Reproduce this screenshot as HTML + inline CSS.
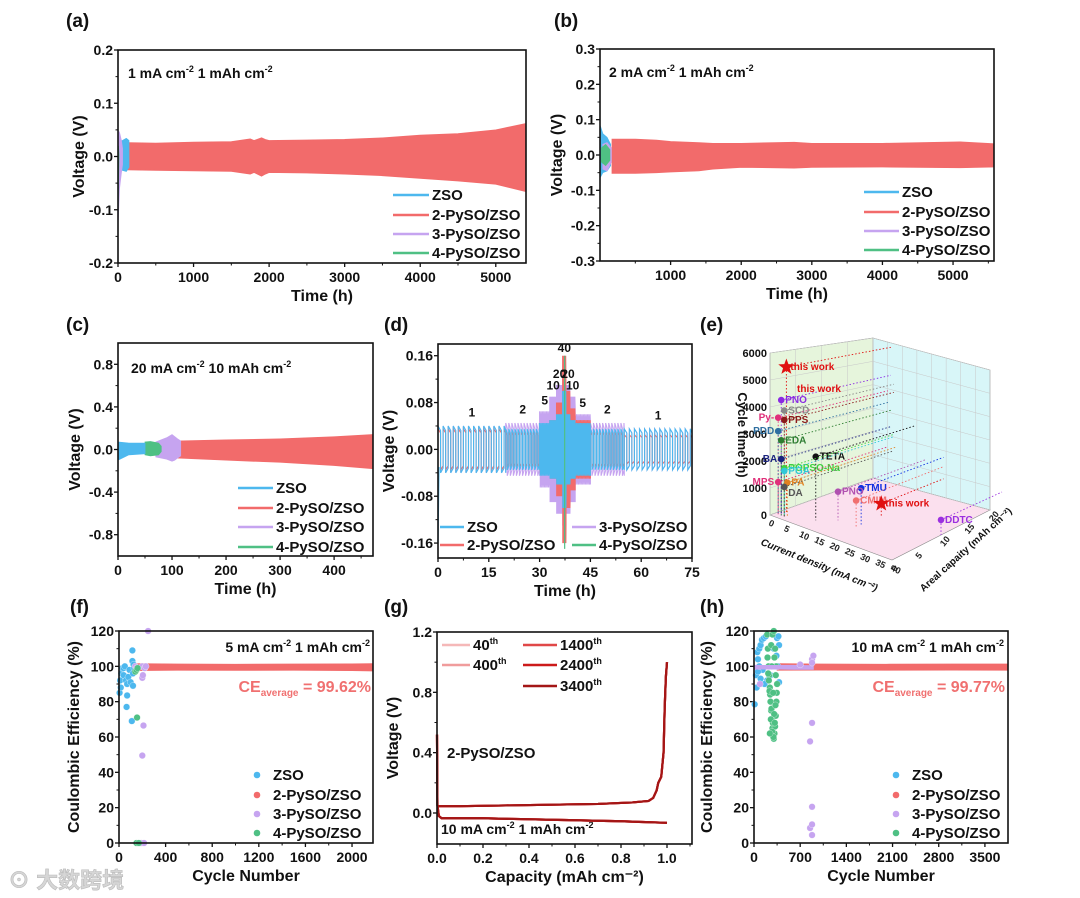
<!DOCTYPE html>
<html><head><meta charset="utf-8"><style>
html,body{margin:0;padding:0;background:#fff;}
svg{display:block;font-family:"Liberation Sans",Arial,sans-serif;font-weight:bold;}
</style></head><body>
<svg id="fig" width="1080" height="898" viewBox="0 0 1080 898" xmlns="http://www.w3.org/2000/svg">
<rect width="1080" height="898" fill="#fff"/>
<!-- panel labels -->
<g font-size="19" fill="#111">
<text x="66" y="27">(a)</text><text x="554" y="27">(b)</text>
<text x="66" y="331">(c)</text><text x="384" y="331">(d)</text><text x="700" y="331">(e)</text>
<text x="70" y="613">(f)</text><text x="384" y="613">(g)</text><text x="700" y="613">(h)</text>
</g>
<!-- annotations -->
<g font-size="14" fill="#111">
<text x="128" y="78">1 mA cm<tspan dy="-6" font-size="9">-2</tspan><tspan dy="6"> 1 mAh cm</tspan><tspan dy="-6" font-size="9">-2</tspan></text>
<text x="609" y="77">2 mA cm<tspan dy="-6" font-size="9">-2</tspan><tspan dy="6"> 1 mAh cm</tspan><tspan dy="-6" font-size="9">-2</tspan></text>
<text x="131" y="373">20 mA cm<tspan dy="-6" font-size="9">-2</tspan><tspan dy="6"> 10 mAh cm</tspan><tspan dy="-6" font-size="9">-2</tspan></text>
<text x="370" y="652" text-anchor="end">5 mA cm<tspan dy="-6" font-size="9">-2</tspan><tspan dy="6"> 1 mAh cm</tspan><tspan dy="-6" font-size="9">-2</tspan></text>
<text x="1004" y="652" text-anchor="end">10 mA cm<tspan dy="-6" font-size="9">-2</tspan><tspan dy="6"> 1 mAh cm</tspan><tspan dy="-6" font-size="9">-2</tspan></text>
<text x="441" y="834">10 mA cm<tspan dy="-6" font-size="9">-2</tspan><tspan dy="6"> 1 mAh cm</tspan><tspan dy="-6" font-size="9">-2</tspan></text>
<text x="447" y="758" font-size="15">2-PySO/ZSO</text>
</g>
<g font-size="16" fill="#f07070">
<text x="371" y="692" text-anchor="end">CE<tspan dy="4" font-size="10">average</tspan><tspan dy="-4"> = 99.62%</tspan></text>
<text x="1005" y="692" text-anchor="end">CE<tspan dy="4" font-size="10">average</tspan><tspan dy="-4"> = 99.77%</tspan></text>
</g>
<text x="8" y="888" font-size="22" fill="#d6d6d6" stroke="#bbb" stroke-width="0.6" font-family="'Liberation Sans','Noto Sans CJK SC',sans-serif">⊙ 大数跨境</text>
<g id="marks"></g>
</svg>
<script>
// ---------------- DATA ----------------
// (a)
const aRedT=[130,500,1000,1500,1750,1800,1900,1950,2000,2500,3000,3500,4000,4500,5000,5400];
const aRedUp=[0.026,0.025,0.027,0.028,0.033,0.03,0.035,0.032,0.03,0.031,0.032,0.035,0.04,0.043,0.05,0.062];
const aRedLo=[-0.025,-0.026,-0.027,-0.028,-0.033,-0.03,-0.037,-0.033,-0.03,-0.031,-0.033,-0.036,-0.041,-0.046,-0.052,-0.066];
const aBlueT=[10,60,110,145];const aBlueUp=[0.028,0.03,0.034,0.03];const aBlueLo=[-0.025,-0.026,-0.028,-0.02];
const aPurT=[0,20,45,60];const aPurUp=[0.05,0.045,0.03,0.015];const aPurLo=[-0.13,-0.06,-0.03,-0.015];
const aGreT=[0,6,12];const aGreUp=[0.01,0.02,0.005];const aGreLo=[-0.14,-0.05,-0.005];
// (b)
const bRedT=[170,500,800,1000,1400,1600,2000,2750,3000,4000,5100,5580];
const bRedUp=[0.045,0.045,0.042,0.038,0.035,0.033,0.033,0.036,0.033,0.033,0.037,0.032];
const bRedLo=[-0.052,-0.052,-0.05,-0.048,-0.045,-0.04,-0.035,-0.037,-0.035,-0.034,-0.036,-0.034];
const bBlueT=[0,40,100,150];const bBlueUp=[0.085,0.06,0.05,0.03];const bBlueLo=[-0.065,-0.05,-0.045,-0.03];
const bPurT=[40,100,160];const bPurUp=[0.03,0.035,0.02];const bPurLo=[-0.04,-0.045,-0.02];
const bGreT=[20,80,140];const bGreUp=[0.02,0.03,0.015];const bGreLo=[-0.02,-0.03,-0.015];
// (c)
const cRedT=[110,200,300,400,472];const cRedUp=[0.08,0.09,0.1,0.12,0.14];const cRedLo=[-0.08,-0.1,-0.12,-0.15,-0.18];
const cPurT=[70,90,100,105,110,116];const cPurUp=[0.07,0.11,0.14,0.12,0.1,0.08];const cPurLo=[-0.07,-0.09,-0.11,-0.1,-0.08,-0.06];
const cGreT=[50,60,75,80];const cGreUp=[0.07,0.075,0.06,0.03];const cGreLo=[-0.05,-0.06,-0.05,-0.02];
const cBlueT=[0,20,50];const cBlueUp=[0.07,0.06,0.06];const cBlueLo=[-0.1,-0.05,-0.04];
// (d) rate test
const dCurrents=[1,2,5,10,20,40,20,10,5,2,1];
const dBounds=[0,20,30,33,35,36.8,37.8,39,40.5,45,55,75];
const dPeriods=[1.5,0.9,0.4,0.2,0.1,0.1,0.1,0.2,0.4,0.9,1.5];
const dPurAmp=[0.04,0.045,0.065,0.09,0.11,0.13,0.11,0.09,0.06,0.045,0.035];
const dRedAmp=[0.035,0.03,0.04,0.05,0.08,0.16,0.1,0.07,0.05,0.03,0.025];
const dBlueAmp=[0.04,0.035,0.045,0.05,0.06,0.1,0.06,0.05,0.045,0.035,0.035];
// (f)
const fRedX=[130,500,1000,1500,2000,2180];const fRedUp=[101.5,101.3,101.2,101.3,101.4,101.5];const fRedLo=[97.6,97.8,97.7,97.8,97.6,97.4];
const fBlueX=[5,10,15,20,30,40,40,50,60,65,70,70,80,90,100,110,115,115,120,120,125,130];
const fBlueY=[85,92,88,96,99,95,99,100,92,77,90,83.5,94,98,91,69,103,109,89,96,101,99];
const fPurX=[140,150,200,200,205,210,200,220,250,230,190,215];
const fPurY=[100,99,100,93.5,95,66.5,49.5,99,120,100,0,0];
const fGreX=[140,150,160,155,150,170];
const fGreY=[97,98,99,71,0,0];
// (g)
const gChgCap=[0,0.005,0.1,0.3,0.5,0.7,0.85,0.92,0.94,0.955,0.962,0.975,0.985,0.99,0.995,1.0];
const gChgV=[0.04,0.045,0.045,0.05,0.055,0.06,0.07,0.08,0.1,0.15,0.2,0.24,0.4,0.7,0.9,1.0];
const gDisCap=[0,0.002,0.008,0.02,0.2,0.5,0.8,1.0];
const gDisV=[0.52,0.05,-0.02,-0.035,-0.035,-0.045,-0.055,-0.065];
const gCycles=["40","400","1400","2400","3400"];
// (h)
const hRedX=[350,1000,2000,3000,3850];const hRedUp=[101.5,101.3,101.2,101.3,101.3];const hRedLo=[97.8,97.9,97.8,97.9,97.8];
const hPurBandX=[0,300,600,900];const hPurUp=[100.6,100.5,100.6,100.4];const hPurLo=[98.4,98.5,98.3,98.3];
const hBlueX=[10,30,50,60,80,100,120,150,180,200,100,250,300,350,370,380,360,380,130,60,80,230,340,40,160];
const hBlueY=[78.5,95,108,104,110,112,115,116,117,92,93,95,110,116,117,112,100,91,98,97,100,100,106,88,90];
const hGreX=[200,210,220,230,240,250,260,270,280,290,300,310,320,330,340,350,205,225,245,265,285,305,325,345,215,235,255,275,295,315,335,260,280,300,320,240,290,330,270,310];
const hGreY=[118,110,100,95,88,80,75,70,65,60,59,62,66,72,80,90,105,92,84,76,68,73,78,85,96,86,70,63,60,68,100,112,118,120,110,62,85,95,100,105];
const hPurX=[850,880,880,900,880,880,850,880,880,700,90];
const hPurY=[57.5,68,104,106,102,20.5,8.5,10.5,4.5,101,90];
// (e) 3D comparison
const eNames=["this work","PNO","SCD","Py-","PPS","PDD","EDA","TETA","BA","POPSO-Na","PGA","MPS","PA","DA","TMU","CMIM","PNO","this work","DDTC"];
const eCurrent=[2,2,3,1,3,1,2,10,2,3,3,1,4,3,20,20,14,20,40];
const eCapacity=[2,1,1,1,1,1,1,3,1,1,1,1,1,1,6,5,5,10,10];
const eCycle=[5500,4300,3950,3600,3600,3100,2800,2400,2100,1800,1700,1200,1300,1100,1400,1000,1100,480,600];
const eColors=["#e01010","#8a2be2","#888888","#e0307a","#8b1a1a","#2f6fa0","#2e7d32","#111111","#1a237e","#40d040","#30c8d8","#e0307a","#e08020","#555555","#1030e0","#f07070","#b050b0","#e01010","#9b30e0"];
const eYTicks=[0,1000,2000,3000,4000,5000,6000];
const eCdTicks=[0,5,10,15,20,25,30,35,40];
const eAcTicks=[0,5,10,15,20];
// ---------------- HELPERS ----------------
const NS="http://www.w3.org/2000/svg";
const root=document.getElementById('marks');
function mk(tag,attrs,parent){const e=document.createElementNS(NS,tag);for(const k in attrs)e.setAttribute(k,attrs[k]);(parent||root).appendChild(e);return e;}
const C={blue:'#4db8ee',red:'#f26b6b',pur:'#c6a4f0',gre:'#4fc084'};
function axes(o){
  const X=v=>o.L+(v-o.xd[0])/(o.xd[1]-o.xd[0])*(o.R-o.L);
  const Y=v=>o.B-(v-o.yd[0])/(o.yd[1]-o.yd[0])*(o.B-o.T);
  const g=mk('g',{});
  
  
  o.xt.forEach((v,i)=>{mk('line',{x1:X(v),x2:X(v),y1:o.B,y2:o.B+4,stroke:'#111','stroke-width':1.3},g);
    if(o.xl[i]!==''){const t=mk('text',{x:X(v),y:o.B+19,'text-anchor':'middle','font-size':14,fill:'#111'},g);t.textContent=o.xl[i];
    
    }});
  (o.xm||[]).forEach(v=>mk('line',{x1:X(v),x2:X(v),y1:o.B,y2:o.B+2.5,stroke:'#111','stroke-width':1},g));
  o.yt.forEach((v,i)=>{mk('line',{x1:o.L-4,x2:o.L,y1:Y(v),y2:Y(v),stroke:'#111','stroke-width':1.3},g);
    const t=mk('text',{x:o.L-5,y:Y(v)+5,'text-anchor':'end','font-size':14,fill:'#111'},g);t.textContent=o.yl[i];
    
    });
  (o.ym||[]).forEach(v=>mk('line',{x1:o.L-2.5,x2:o.L,y1:Y(v),y2:Y(v),stroke:'#111','stroke-width':1},g));
  const xt=mk('text',{x:(o.L+o.R)/2,y:o.B+38,'text-anchor':'middle','font-size':16,fill:'#111'},g);xt.textContent=o.xtitle;
  
  
  const yc=(o.T+o.B)/2;
  const yt=mk('text',{x:o.ytx,y:yc,'text-anchor':'middle','font-size':16,fill:'#111',transform:`rotate(-90 ${o.ytx} ${yc})`},g);yt.textContent=o.ytitle;
  
  
  return {X,Y,frame:()=>{const f=mk('rect',{x:o.L,y:o.T,width:o.R-o.L,height:o.B-o.T,fill:'none',stroke:'#111','stroke-width':1.6});
    
    }};
}
function band(A,t,up,lo,col,name){
  const pts=t.map((v,i)=>A.X(v)+','+A.Y(up[i])).concat(t.slice().reverse().map((v,j)=>{const i=t.length-1-j;return A.X(v)+','+A.Y(lo[i]);}));
  const p=mk('polygon',{points:pts.join(' '),fill:col,stroke:col,'stroke-width':0.8});
  
  
}
function lineLegend(x,ys,cols,labels,len,name){
  labels.forEach((l,i)=>{const g=mk('g',{});
    
    
    mk('line',{x1:x,x2:x+len,y1:ys[i]-5,y2:ys[i]-5,stroke:cols[i],'stroke-width':2.5},g);
    const t=mk('text',{x:x+len+3,y:ys[i],'font-size':15,fill:'#111'},g);t.textContent=l;});
}
function dotLegend(x,ys,cols,labels,name){
  labels.forEach((l,i)=>{const g=mk('g',{});
    
    
    mk('circle',{cx:x,cy:ys[i]-5,r:3.3,fill:cols[i]},g);
    const t=mk('text',{x:x+16,y:ys[i],'font-size':15,fill:'#111'},g);t.textContent=l;});
}
function dots(A,xs,ys,col,name){xs.forEach((v,i)=>{const c=mk('circle',{cx:A.X(v),cy:A.Y(ys[i]),r:3.3,fill:col,stroke:'#fff','stroke-width':0.3});
  
  });}
const series=['ZSO','2-PySO/ZSO','3-PySO/ZSO','4-PySO/ZSO'];
const scols=[C.blue,C.red,C.pur,C.gre];
// ---------------- (a) ----------------
{const A=axes({name:'a',L:118,R:526,T:50,B:263,xd:[0,5400],yd:[-0.2,0.2],xt:[0,1000,2000,3000,4000,5000],xl:['0','1000','2000','3000','4000','5000'],xm:[500,1500,2500,3500,4500],yt:[-0.2,-0.1,0,0.1,0.2],yl:['-0.2','-0.1','0.0','0.1','0.2'],ym:[-0.15,-0.05,0.05,0.15],xtitle:'Time (h)',ytitle:'Voltage (V)',ytx:84});
band(A,aRedT,aRedUp,aRedLo,C.red,'a-2pyso-band');band(A,aBlueT,aBlueUp,aBlueLo,C.blue,'a-zso-band');band(A,aPurT,aPurUp,aPurLo,C.pur,'a-3pyso-band');band(A,aGreT,aGreUp,aGreLo,C.gre,'a-4pyso-band');
A.frame();lineLegend(393,[200,220,239,258],scols,series,36,'a');}
// ---------------- (b) ----------------
{const A=axes({name:'b',L:600,R:994,T:49,B:261,xd:[0,5580],yd:[-0.3,0.3],xt:[1000,2000,3000,4000,5000],xl:['1000','2000','3000','4000','5000'],xm:[500,1500,2500,3500,4500,5500],yt:[-0.3,-0.2,-0.1,0,0.1,0.2,0.3],yl:['-0.3','-0.2','-0.1','0.0','0.1','0.2','0.3'],ym:[-0.25,-0.15,-0.05,0.05,0.15,0.25],xtitle:'Time (h)',ytitle:'Voltage (V)',ytx:562});
band(A,bRedT,bRedUp,bRedLo,C.red,'b-2pyso-band');band(A,bBlueT,bBlueUp,bBlueLo,C.blue,'b-zso-band');band(A,bPurT,bPurUp,bPurLo,C.pur,'b-3pyso-band');band(A,bGreT,bGreUp,bGreLo,C.gre,'b-4pyso-band');
A.frame();lineLegend(864,[197,217,236,255],scols,series,35,'b');}
// ---------------- (c) ----------------
{const A=axes({name:'c',L:118,R:373,T:343,B:556,xd:[0,472],yd:[-1,1],xt:[0,100,200,300,400],xl:['0','100','200','300','400'],xm:[50,150,250,350,450],yt:[-0.8,-0.4,0,0.4,0.8],yl:['-0.8','-0.4','0.0','0.4','0.8'],ym:[-0.6,-0.2,0.2,0.6],xtitle:'Time (h)',ytitle:'Voltage (V)',ytx:80});
band(A,cRedT,cRedUp,cRedLo,C.red,'c-2pyso-band');band(A,cPurT,cPurUp,cPurLo,C.pur,'c-3pyso-band');band(A,cGreT,cGreUp,cGreLo,C.gre,'c-4pyso-band');band(A,cBlueT,cBlueUp,cBlueLo,C.blue,'c-zso-band');
A.frame();lineLegend(238,[493,513,532,552],scols,series,35,'c');}
// ---------------- (d) ----------------
{const A=axes({name:'d',L:438,R:692,T:344,B:558,xd:[0,75],yd:[-0.1855,0.18],xt:[0,15,30,45,60,75],xl:['0','15','30','45','60','75'],xm:[7.5,22.5,37.5,52.5,67.5],yt:[-0.16,-0.08,0,0.08,0.16],yl:['-0.16','-0.08','0.00','0.08','0.16'],ym:[-0.12,-0.04,0.04,0.12],xtitle:'Time (h)',ytitle:'Voltage (V)',ytx:394});
function wave(amps,col,name){const pts=[];
  dCurrents.forEach((j,i)=>{const s=dBounds[i],e=dBounds[i+1],p=dPeriods[i],a=amps[i];
    for(let t=s;t<e-1e-6;t+=p){const h=Math.min(t+p/2,e),f=Math.min(t+p,e);
      pts.push(A.X(t)+','+A.Y(a),A.X(h)+','+A.Y(a*0.8),A.X(h)+','+A.Y(-a),A.X(f)+','+A.Y(-a*0.8));}});
  const pl=mk('polyline',{points:pts.join(' '),fill:'none',stroke:col,'stroke-width':1.1});
  
  }
wave(dPurAmp,C.pur,'d-3pyso-curve');wave(dRedAmp,C.red,'d-2pyso-curve');wave(dBlueAmp,C.blue,'d-zso-curve');
const sp=mk('line',{x1:A.X(37.4),x2:A.X(37.4),y1:A.Y(0.16),y2:A.Y(-0.17),stroke:C.gre,'stroke-width':1.2});


mk('line',{x1:A.X(0),x2:A.X(0.3),y1:A.Y(-0.16),y2:A.Y(-0.03),stroke:C.blue,'stroke-width':1.2});
dCurrents.forEach((j,i)=>{const m=(dBounds[i]+dBounds[i+1])/2;const top=Math.max(dPurAmp[i],dRedAmp[i]);
  const yv=j===40?0.166:(j===1||j===2?top+0.016:dPurAmp[i]+0.012);
  const t=mk('text',{x:A.X(m),y:A.Y(yv),'text-anchor':'middle','font-size':12,fill:'#111'});t.textContent=j;
  
  });
A.frame();
lineLegend(440,[532,550],[C.blue,C.red],['ZSO','2-PySO/ZSO'],24,'d');
lineLegend(572,[532,550],[C.pur,C.gre],['3-PySO/ZSO','4-PySO/ZSO'],24,'d');}
// ---------------- (f) ----------------
{const A=axes({name:'f',L:119,R:373,T:631,B:843,xd:[0,2180],yd:[0,120],xt:[0,400,800,1200,1600,2000],xl:['0','400','800','1200','1600','2000'],xm:[200,600,1000,1400,1800],yt:[0,20,40,60,80,100,120],yl:['0','20','40','60','80','100','120'],ym:[10,30,50,70,90,110],xtitle:'Cycle Number',ytitle:'Coulombic Efficiency (%)',ytx:79});
band(A,fRedX,fRedUp,fRedLo,C.red,'f-2pyso-points');dots(A,fBlueX,fBlueY,C.blue,'f-zso-point');dots(A,fPurX,fPurY,C.pur,'f-3pyso-point');dots(A,fGreX,fGreY,C.gre,'f-4pyso-point');
A.frame();dotLegend(257,[780,800,819,838],scols,series,'f');}
// ---------------- (g) ----------------
{const A=axes({name:'g',L:437,R:692,T:632,B:844,xd:[0,1.1087],yd:[-0.2056,1.2],xt:[0,0.2,0.4,0.6,0.8,1.0],xl:['0.0','0.2','0.4','0.6','0.8','1.0'],xm:[0.1,0.3,0.5,0.7,0.9,1.1],yt:[0,0.4,0.8,1.2],yl:['0.0','0.4','0.8','1.2'],ym:[0.2,0.6,1.0],xtitle:'Capacity (mAh cm⁻²)',ytitle:'Voltage (V)',ytx:398});
const gcols=['#f5b8b8','#f09c9c','#e04848','#cc1a1a','#a31616'];
gCycles.forEach((c,i)=>{
  const p1=mk('polyline',{points:gChgCap.map((v,k)=>A.X(v)+','+A.Y(gChgV[k])).join(' '),fill:'none',stroke:gcols[i],'stroke-width':2.2});
  
  
  const p2=mk('polyline',{points:gDisCap.map((v,k)=>A.X(v)+','+A.Y(gDisV[k])).join(' '),fill:'none',stroke:gcols[i],'stroke-width':2.2});
  
  });
A.frame();
const lx=[442,442,523,523,523],ly=[650,670,650,670,691];
gCycles.forEach((c,i)=>{const g=mk('g',{});
  
  
  mk('line',{x1:lx[i],x2:lx[i]+(i<2?28:34),y1:ly[i]-5,y2:ly[i]-5,stroke:gcols[i],'stroke-width':2.5},g);
  const t=mk('text',{x:lx[i]+(i<2?31:37),y:ly[i],'font-size':15,fill:'#111'},g);t.textContent=c;
  const s=mk('tspan',{dy:-6,'font-size':9},t);s.textContent='th';});}
// ---------------- (h) ----------------
{const A=axes({name:'h',L:754,R:1008,T:631,B:843,xd:[0,3850],yd:[0,120],xt:[0,700,1400,2100,2800,3500],xl:['0','700','1400','2100','2800','3500'],xm:[350,1050,1750,2450,3150],yt:[0,20,40,60,80,100,120],yl:['0','20','40','60','80','100','120'],ym:[10,30,50,70,90,110],xtitle:'Cycle Number',ytitle:'Coulombic Efficiency (%)',ytx:712});
band(A,hRedX,hRedUp,hRedLo,C.red,'h-2pyso-points');dots(A,hBlueX,hBlueY,C.blue,'h-zso-point');dots(A,hGreX,hGreY,C.gre,'h-4pyso-point');
band(A,hPurBandX,hPurUp,hPurLo,C.pur,'h-3pyso-band');dots(A,hPurX,hPurY,C.pur,'h-3pyso-point');
A.frame();dotLegend(896,[780,800,819,838],scols,series,'h');}
// ---------------- (e) 3D ----------------
{const B0=[770,515],G0=[892,560],F0=[990,510],D0=[873,478];
function P(cd,ac,t){const u=cd/40,v=ac/20;
  const x=B0[0]*(1-u)*(1-v)+G0[0]*u*(1-v)+F0[0]*u*v+D0[0]*(1-u)*v;
  const y=B0[1]*(1-u)*(1-v)+G0[1]*u*(1-v)+F0[1]*u*v+D0[1]*(1-u)*v;
  const h=(162-v*22)*t/6000;return [x,y-h];}
const pp=a=>a.map(q=>q.join(',')).join(' ');
const w1=mk('polygon',{points:pp([P(0,0,6000),P(0,20,6000),P(0,20,0),P(0,0,0)]),fill:'#e6f5dc',stroke:'#888','stroke-width':0.6});


const w2=mk('polygon',{points:pp([P(0,20,6000),P(40,20,6000),P(40,20,0),P(0,20,0)]),fill:'#d8f6f8',stroke:'#888','stroke-width':0.6});


const fl=mk('polygon',{points:pp([P(0,0,0),P(40,0,0),P(40,20,0),P(0,20,0)]),fill:'#fbe0ee',stroke:'#888','stroke-width':0.6});


eYTicks.forEach(t=>{mk('polyline',{points:pp([P(0,0,t),P(0,20,t),P(40,20,t)]),fill:'none',stroke:'#c8c8c8','stroke-width':0.5});
  const q=P(0,0,t);const tx=mk('text',{x:q[0]-3,y:q[1]+4,'text-anchor':'end','font-size':11,fill:'#111'});tx.textContent=t;
  
  });
eCdTicks.forEach(c=>{mk('line',{x1:P(c,20,0)[0],y1:P(c,20,0)[1],x2:P(c,20,6000)[0],y2:P(c,20,6000)[1],stroke:'#c8c8c8','stroke-width':0.5});
  const q=P(c,0,0);const tx=mk('text',{x:q[0]-2,y:q[1]+10,'font-size':9,fill:'#222',transform:`rotate(25 ${q[0]-2} ${q[1]+10})`});tx.textContent=c;
  
  });
eAcTicks.forEach(a=>{mk('line',{x1:P(0,a,0)[0],y1:P(0,a,0)[1],x2:P(0,a,6000)[0],y2:P(0,a,6000)[1],stroke:'#c8c8c8','stroke-width':0.5});
  const q=P(40,a,0);const tx=mk('text',{x:q[0]+3,y:q[1]+12,'font-size':9,fill:'#222',transform:`rotate(-50 ${q[0]+3} ${q[1]+12})`});tx.textContent=a;
  
  });
const yt=mk('text',{x:738,y:435,'text-anchor':'middle','font-size':13,fill:'#111',transform:'rotate(90 738 435)'});yt.textContent='Cycle time (h)';


const xt=mk('text',{x:818,y:568,'text-anchor':'middle','font-size':10,'font-style':'italic',fill:'#111',transform:'rotate(22 818 568)'});xt.textContent='Current density (mA cm⁻²)';


const zt=mk('text',{x:968,y:552,'text-anchor':'middle','font-size':10,fill:'#111',transform:'rotate(-42 968 552)'});zt.textContent='Areal capaity (mAh cm⁻²)';


eNames.forEach((n,i)=>{const q=P(eCurrent[i],eCapacity[i],eCycle[i]);const q2=P(eCurrent[i],20,eCycle[i]);const q3=P(eCurrent[i],eCapacity[i],0);const col=eColors[i];
  mk('line',{x1:q[0],y1:q[1],x2:q2[0]+12,y2:q2[1]-4,stroke:col,'stroke-width':0.9,'stroke-dasharray':'1.5 2'});
  mk('line',{x1:q[0],y1:q[1],x2:q3[0],y2:q3[1],stroke:col,'stroke-width':0.9,'stroke-dasharray':'1.5 2'});
  let m;
  if(n==='this work'){const s=[];for(let k=0;k<10;k++){const r=k%2?3.5:8.5,a=-Math.PI/2+k*Math.PI/5;s.push((q[0]+r*Math.cos(a))+','+(q[1]+r*Math.sin(a)));}
    m=mk('polygon',{points:s.join(' '),fill:'#e01010'});}
  else m=mk('circle',{cx:q[0],cy:q[1],r:3.3,fill:col});
  
  
  const left=(n==='Py-'||n==='PDD'||n==='BA'||n==='MPS');
  const t=mk('text',{x:left?q[0]-4:q[0]+4,y:q[1]+(n==='DA'?9:3),'text-anchor':left?'end':'start','font-size':10,fill:col==='#111111'?'#111':col});t.textContent=n;
  
  });
const tw=mk('text',{x:797,y:392,'font-size':10,fill:'#e01010'});tw.textContent='this work';

}
</script>
</body></html>
